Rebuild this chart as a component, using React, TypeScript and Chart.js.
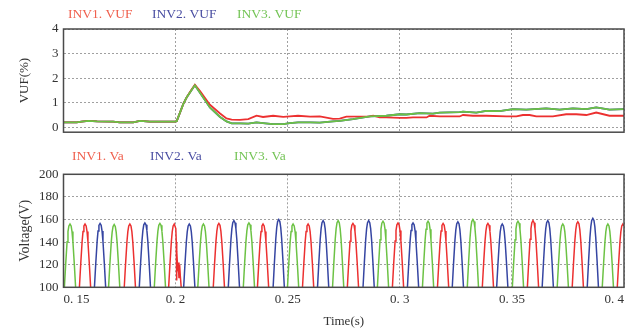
import React, { useEffect, useRef } from "react";
import { Chart, registerables } from "chart.js";
Chart.register(...registerables);

// ---------- data ----------
const xTicks = [0.15, 0.2, 0.25, 0.3, 0.35, 0.4];
const xTickLabels = ["0. 15", "0. 2", "0. 25", "0. 3", "0. 35", "0. 4"];
const vufTicks = [0, 1, 2, 3, 4];
const voltTicks = [100, 120, 140, 160, 180, 200];

// VUF (%) traces
const vuf3Time = [0.15, 0.1559, 0.158, 0.1611, 0.165, 0.1722, 0.175, 0.1811, 0.1841, 0.1885, 0.1997, 0.2005, 0.2034, 0.2049, 0.207, 0.2086, 0.2108, 0.2153, 0.2197, 0.2227, 0.225, 0.2287, 0.2324, 0.2361, 0.24, 0.2435, 0.248, 0.2509, 0.2546, 0.26, 0.2643, 0.2702, 0.2732, 0.2791, 0.2866, 0.294, 0.3, 0.3029, 0.3089, 0.3148, 0.3178, 0.3267, 0.3282, 0.3341, 0.3386, 0.3445, 0.3504, 0.3564, 0.3653, 0.3713, 0.3772, 0.3832, 0.3876, 0.3935, 0.4];
const vuf3Value = [0.2, 0.2, 0.23, 0.26, 0.24, 0.23, 0.2, 0.2, 0.26, 0.23, 0.23, 0.25, 0.94, 1.21, 1.5, 1.71, 1.42, 0.81, 0.43, 0.24, 0.16, 0.16, 0.15, 0.2, 0.16, 0.13, 0.13, 0.17, 0.2, 0.2, 0.19, 0.24, 0.26, 0.33, 0.44, 0.47, 0.53, 0.52, 0.58, 0.56, 0.6, 0.62, 0.64, 0.6, 0.67, 0.66, 0.74, 0.72, 0.77, 0.72, 0.77, 0.74, 0.81, 0.72, 0.74];
const vuf2Time = vuf3Time;
const vuf2Value = vuf3Value;
const vuf1Time = [0.15, 0.1559, 0.158, 0.1611, 0.165, 0.1722, 0.175, 0.1811, 0.1841, 0.1885, 0.1997, 0.2005, 0.2034, 0.2049, 0.207, 0.2086, 0.2108, 0.2153, 0.2197, 0.2227, 0.225, 0.2287, 0.2324, 0.2361, 0.239, 0.2435, 0.248, 0.2509, 0.2546, 0.26, 0.2643, 0.2702, 0.2732, 0.2762, 0.2866, 0.2881, 0.291, 0.294, 0.3, 0.3029, 0.3059, 0.3119, 0.3133, 0.3178, 0.3267, 0.3282, 0.3326, 0.3386, 0.3475, 0.352, 0.3549, 0.3579, 0.3609, 0.3683, 0.3742, 0.3787, 0.3832, 0.3876, 0.3935, 0.4];
const vuf1Value = [0.2, 0.2, 0.23, 0.26, 0.24, 0.23, 0.2, 0.2, 0.26, 0.23, 0.23, 0.25, 0.94, 1.21, 1.52, 1.73, 1.48, 0.92, 0.57, 0.36, 0.31, 0.3, 0.33, 0.47, 0.42, 0.47, 0.42, 0.44, 0.47, 0.43, 0.44, 0.34, 0.35, 0.43, 0.44, 0.47, 0.4, 0.4, 0.38, 0.38, 0.4, 0.4, 0.47, 0.44, 0.44, 0.5, 0.47, 0.47, 0.44, 0.44, 0.5, 0.5, 0.44, 0.44, 0.53, 0.53, 0.5, 0.6, 0.47, 0.47];

// Phase-A voltage pulses (visible tops above 100 V): peak times and peak volts
const inv1PeakTime = [0.1596, 0.1796, 0.1994, 0.2193, 0.239, 0.2591, 0.2791, 0.2992, 0.3193, 0.3393, 0.3594, 0.3794, 0.3995];
const inv1PeakVolt = [156, 156, 156, 156.5, 156, 156, 156.5, 157, 156.5, 156.5, 159, 158, 156];
const inv2PeakTime = [0.1663, 0.1863, 0.2061, 0.226, 0.246, 0.2658, 0.2861, 0.3059, 0.3259, 0.3457, 0.366, 0.3861];
const inv2PeakVolt = [156.5, 157, 156, 159, 160, 159, 159, 157, 158, 156, 159, 161];
const inv3PeakTime = [0.1529, 0.1726, 0.193, 0.2124, 0.2327, 0.2524, 0.2725, 0.2925, 0.3126, 0.3326, 0.3527, 0.3727, 0.3928];
const inv3PeakVolt = [156, 155.5, 156.5, 156, 157, 156, 159, 158.5, 158.5, 160, 158.5, 156, 156];
// pulse profile (time offset from peak, fraction of peak height above 100 V)
const pulseOffset = [-0.0031, -0.0025, -0.0019, -0.0013, -0.0009, -0.0005, 0, 0.0005, 0.0009, 0.0013, 0.0019, 0.0025, 0.0031];
const pulseShape = [-0.8, 0, 0.38, 0.72, 0.88, 0.97, 1, 0.97, 0.88, 0.72, 0.38, 0, -0.8];
// distorted falling edge of the INV1 pulse at 0.2 s
const inv1GlitchIndex = 2;
const inv1GlitchTime = [0.2001, 0.2003, 0.2004, 0.2006, 0.2009, 0.2012, 0.2015, 0.2018, 0.2021, 0.2025, 0.2032];
const inv1GlitchVolt = [152, 140, 106, 132, 118, 122, 108, 120, 110, 100, 55];

// ---------- helpers ----------
const FONT = "'Liberation Serif', 'DejaVu Serif', serif";
const RED = "#ec3030";
const BLUE = "#3545a2";
const GREEN = "#6cc244";

function pairs(t: number[], v: number[]) {
  return t.map((x, i) => ({ x, y: v[i] }));
}

function buildWave(times: number[], peaks: number[], glitchIdx = -1, gT: number[] = [], gV: number[] = []) {
  const pts: { x: number; y: number }[] = [];
  times.forEach((t, i) => {
    pulseOffset.forEach((o, k) => {
      if (i === glitchIdx && o > 0) return;
      pts.push({ x: t + o, y: 100 + (peaks[i] - 100) * pulseShape[k] });
    });
    if (i === glitchIdx) gT.forEach((x, j) => pts.push({ x, y: gV[j] }));
  });
  return pts;
}

type LegendItem = { text: string; color: string; x: number; y: number };

const framePlugin = {
  id: "frame",
  afterDraw(chart: any) {
    const { ctx, chartArea: a } = chart;
    ctx.save();
    ctx.strokeStyle = "#4a4a4a";
    ctx.lineWidth = 1.5;
    ctx.strokeRect(a.left, a.top, a.right - a.left, a.bottom - a.top);
    const items: LegendItem[] = chart.options.plugins.textLegend?.items || [];
    ctx.font = `13.5px ${FONT}`;
    ctx.textBaseline = "middle";
    ctx.textAlign = "left";
    items.forEach((it) => {
      ctx.fillStyle = it.color;
      ctx.fillText(it.text, it.x, it.y);
    });
    ctx.restore();
  },
};

function xScale(showLabels: boolean, height: number) {
  return {
    type: "linear",
    min: 0.15,
    max: 0.4,
    afterBuildTicks: (s: any) => {
      s.ticks = xTicks.map((value) => ({ value }));
    },
    afterFit: (s: any) => {
      s.height = height;
    },
    grid: { color: "#a0a0a0", lineWidth: 1, drawTicks: false },
    border: { display: false, dash: [2, 2] },
    ticks: {
      display: showLabels,
      align: "inner",
      padding: 4,
      color: "#333",
      font: { family: FONT, size: 13 },
      callback: (v: number) => {
        const i = xTicks.findIndex((t) => Math.abs(t - v) < 1e-9);
        return i >= 0 ? xTickLabels[i] : "";
      },
    },
    title: showLabels
      ? { display: true, text: "Time(s)", color: "#333", font: { family: FONT, size: 13 }, padding: { top: 0, bottom: 1 } }
      : { display: false },
  };
}

function yScale(min: number, max: number, ticks: number[], title: string, titleSize: number) {
  return {
    type: "linear",
    min,
    max,
    afterBuildTicks: (s: any) => {
      s.ticks = ticks.map((value) => ({ value }));
    },
    afterFit: (s: any) => {
      s.width = 63.5;
    },
    grid: { color: "#a0a0a0", lineWidth: 1, drawTicks: false },
    border: { display: false, dash: [2, 2] },
    ticks: { padding: 5, color: "#333", font: { family: FONT, size: 13 } },
    title: { display: true, text: title, color: "#333", font: { family: FONT, size: titleSize }, padding: { top: 17, bottom: 0 } },
  };
}

export default function App() {
  const topRef = useRef<HTMLCanvasElement>(null);
  const botRef = useRef<HTMLCanvasElement>(null);

  useEffect(() => {
    const common = (w = 2) => ({ pointRadius: 0, borderWidth: w, tension: 0, fill: false });
    const top = new Chart(topRef.current!, {
      type: "line",
      data: {
        datasets: [
          { label: "INV2. VUF", data: pairs(vuf2Time, vuf2Value), borderColor: BLUE, order: 3, ...common(1.8) },
          { label: "INV1. VUF", data: pairs(vuf1Time, vuf1Value), borderColor: RED, order: 2, ...common(1.8) },
          { label: "INV3. VUF", data: pairs(vuf3Time, vuf3Value), borderColor: GREEN, order: 1, ...common(1.8) },
        ],
      },
      options: {
        responsive: false,
        animation: false,
        devicePixelRatio: 1,
        layout: { padding: { left: 0, right: 15, top: 29, bottom: 0 } },
        scales: { x: xScale(false, 12) as any, y: yScale(-0.2, 4, vufTicks, "VUF(%)", 13) as any },
        plugins: {
          legend: { display: false },
          tooltip: { enabled: false },
          textLegend: {
            items: [
              { text: "INV1. VUF", color: "#f0604e", x: 68, y: 14 },
              { text: "INV2. VUF", color: "#4a4ea2", x: 152, y: 14 },
              { text: "INV3. VUF", color: "#74c456", x: 237, y: 14 },
            ],
          },
        } as any,
      },
      plugins: [framePlugin],
    });

    const bot = new Chart(botRef.current!, {
      type: "line",
      data: {
        datasets: [
          { label: "INV1. Va", data: buildWave(inv1PeakTime, inv1PeakVolt, inv1GlitchIndex, inv1GlitchTime, inv1GlitchVolt), borderColor: RED, ...common(1.5) },
          { label: "INV2. Va", data: buildWave(inv2PeakTime, inv2PeakVolt), borderColor: BLUE, ...common(1.5) },
          { label: "INV3. Va", data: buildWave(inv3PeakTime, inv3PeakVolt), borderColor: GREEN, ...common(1.5) },
        ],
      },
      options: {
        responsive: false,
        animation: false,
        devicePixelRatio: 1,
        layout: { padding: { left: 0, right: 15, top: 29.3, bottom: 0 } },
        scales: { x: xScale(true, 42.7) as any, y: yScale(100, 200, voltTicks, "Voltage(V)", 14) as any },
        plugins: {
          legend: { display: false },
          tooltip: { enabled: false },
          textLegend: {
            items: [
              { text: "INV1. Va", color: "#f0604e", x: 72, y: 11 },
              { text: "INV2. Va", color: "#4a4ea2", x: 150, y: 11 },
              { text: "INV3. Va", color: "#74c456", x: 234, y: 11 },
            ],
          },
        } as any,
      },
      plugins: [framePlugin],
    });

    return () => {
      top.destroy();
      bot.destroy();
    };
  }, []);

  return (
    <div style={{ position: "fixed", left: 0, top: 0, width: 639, height: 330, background: "#fff" }}>
      <canvas ref={topRef} width={639} height={145} style={{ position: "absolute", left: 0, top: 0, width: 639, height: 145 }} />
      <canvas ref={botRef} width={639} height={185} style={{ position: "absolute", left: 0, top: 145, width: 639, height: 185 }} />
    </div>
  );
}
